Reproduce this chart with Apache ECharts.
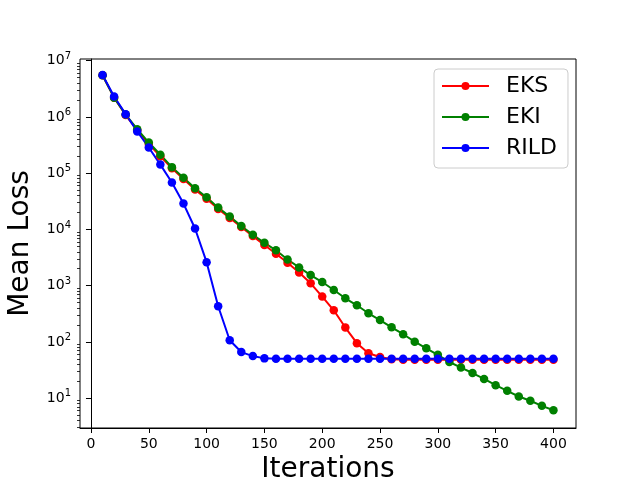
<!DOCTYPE html>
<html>
<head>
<meta charset="utf-8">
<script src="https://cdn.jsdelivr.net/npm/echarts@6/dist/echarts.min.js"></script>
<style>
  html, body { margin: 0; padding: 0; background: #fff; }
  #main { width: 640px; height: 480px; }
</style>
</head>
<body>
<div id="main"></div>
<script>
// iterations on the x axis
var iterations = [10, 20, 30, 40, 50, 60, 70, 80, 90, 100,
  110, 120, 130, 140, 150, 160, 170, 180, 190, 200,
  210, 220, 230, 240, 250, 260, 270, 280, 290, 300,
  310, 320, 330, 340, 350, 360, 370, 380, 390, 400];

// mean loss
var eksLoss = [5.5e6, 2.2e6, 1.08e6, 5.8e5, 3.3e5, 2.0e5, 1.22e5, 7.9e4, 5.1e4, 3.5e4,
  2.3e4, 1.6e4, 1.1e4, 7.6e3, 5.3e3, 3.7e3, 2.55e3, 1.72e3, 1.1e3, 640,
  365, 180, 95, 63, 54, 49, 48, 48, 48, 48,
  48, 48, 48, 48, 48, 48, 48, 48, 48, 48];
var ekiLoss = [5.5e6, 2.2e6, 1.1e6, 6.05e5, 3.5e5, 2.13e5, 1.28e5, 8.3e4, 5.4e4, 3.72e4,
  2.44e4, 1.69e4, 1.15e4, 8.0e3, 5.8e3, 4.25e3, 2.92e3, 2.11e3, 1.54e3, 1.16e3,
  836, 596, 448, 323, 245, 182, 137, 101, 77, 59,
  44, 35, 28, 22, 17, 13.5, 10.7, 9.0, 7.3, 6.1];
var rildLoss = [5.57e6, 2.3e6, 1.12e6, 5.5e5, 2.86e5, 1.42e5, 6.8e4, 2.88e4, 1.04e4, 2.62e3,
  430, 107, 66, 56, 51, 50, 50, 50, 50, 50,
  50, 50, 50, 50, 50, 50, 50, 50, 50, 50,
  50, 50, 50, 50, 50, 50, 50, 50, 50, 50];

// axis ticks
var xTicks = [0, 50, 100, 150, 200, 250, 300, 350, 400];
var yMajor = [10, 100, 1e3, 1e4, 1e5, 1e6, 1e7];
var yMinor = [3, 4, 5, 6, 7, 8, 9,
  20, 30, 40, 50, 60, 70, 80, 90,
  200, 300, 400, 500, 600, 700, 800, 900,
  2e3, 3e3, 4e3, 5e3, 6e3, 7e3, 8e3, 9e3,
  2e4, 3e4, 4e4, 5e4, 6e4, 7e4, 8e4, 9e4,
  2e5, 3e5, 4e5, 5e5, 6e5, 7e5, 8e5, 9e5,
  2e6, 3e6, 4e6, 5e6, 6e6, 7e6, 8e6, 9e6];

var FONT = 'DejaVu Sans';
var yMin = 2.95, yMax = 1.07e7;

function pairs(ys) {
  return iterations.map(function (x, i) { return [x, ys[i]]; });
}

function lineSeries(name, color, ys) {
  return {
    name: name,
    type: 'line',
    data: pairs(ys),
    symbol: 'circle',
    symbolSize: 8.5,
    showSymbol: true,
    lineStyle: { color: color, width: 2 },
    itemStyle: { color: color },
    emphasis: { disabled: true }
  };
}

var myChart = echarts.init(document.getElementById('main'));
var option = {
  animation: false,
  backgroundColor: '#fff',
  grid: {
    left: 80, right: 64, top: 59, bottom: 52,
    outerBoundsMode: 'none',
    containLabel: false,
    show: true, borderColor: '#000', borderWidth: 1
  },
  legend: {
    orient: 'vertical',
    left: 434, top: 69,
    padding: [6, 11, 9, 7],
    itemWidth: 47, itemHeight: 10, itemGap: 9,
    backgroundColor: 'rgba(255,255,255,0.8)',
    borderColor: '#cccccc', borderWidth: 1, borderRadius: 4,
    textStyle: { fontFamily: FONT, fontSize: 22, color: '#000', padding: [0, 0, 0, 12] },
    data: ['EKS', 'EKI', 'RILD']
  },
  xAxis: {
    type: 'value',
    min: -9.5, max: 419.5,
    name: 'Iterations',
    nameLocation: 'middle',
    nameGap: 24,
    nameTextStyle: { fontFamily: FONT, fontSize: 28, color: '#000' },
    axisLine: { lineStyle: { color: '#000', width: 1 } },
    axisTick: { show: true, length: 5, inside: false, customValues: xTicks, lineStyle: { color: '#000' } },
    axisLabel: { customValues: xTicks, margin: 9, fontFamily: FONT, fontSize: 14, color: '#000' },
    splitLine: { show: false }
  },
  yAxis: [{
    type: 'log',
    logBase: 10,
    min: yMin, max: yMax,
    name: 'Mean Loss',
    nameLocation: 'middle',
    nameGap: 45,
    nameTextStyle: { fontFamily: FONT, fontSize: 28, color: '#000' },
    axisLine: { show: true, lineStyle: { color: '#000', width: 1 } },
    axisTick: { show: true, length: 5, inside: false, customValues: yMajor, lineStyle: { color: '#000' } },
    axisLabel: {
      customValues: yMajor,
      margin: 9,
      formatter: function (v) {
        return '{b|10}{s|' + Math.round(Math.log10(v)) + '}';
      },
      rich: {
        b: { fontFamily: FONT, fontSize: 14, color: '#000' },
        s: { fontFamily: FONT, fontSize: 10, color: '#000', padding: [0, 0, 9, 0] }
      }
    },
    splitLine: { show: false }
  }, {
    type: 'log',
    logBase: 10,
    min: yMin, max: yMax,
    position: 'left',
    axisLine: { show: false },
    axisTick: { show: true, length: 3, inside: false, customValues: yMinor, lineStyle: { color: '#000', width: 0.8 } },
    axisLabel: { show: false },
    splitLine: { show: false }
  }],
  series: [
    lineSeries('EKS', '#ff0000', eksLoss),
    lineSeries('EKI', '#008000', ekiLoss),
    lineSeries('RILD', '#0000ff', rildLoss)
  ]
};
myChart.setOption(option);
</script>
</body>
</html>
